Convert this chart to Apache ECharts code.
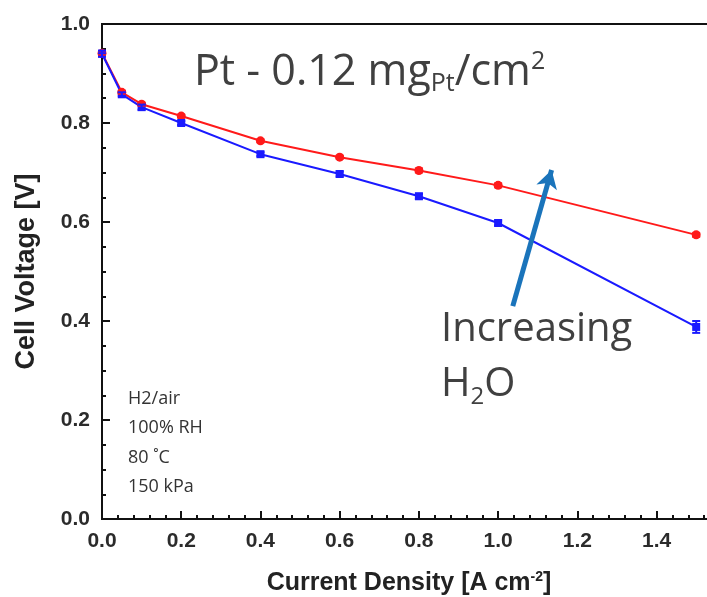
<!DOCTYPE html>
<html>
<head>
<meta charset="utf-8">
<script src="https://cdn.jsdelivr.net/npm/echarts@6/dist/echarts.min.js"></script>
<style>
    html, body {margin: 0; padding: 0; background: #fff;}
    #chart {width: 707px; height: 597px;}
</style>
</head>
<body>
<div id="chart"></div>
<script>
    // current density [A cm-2]
    const currentDensity = [0, 0.05, 0.1, 0.2, 0.4, 0.6, 0.8, 1.0, 1.5];
    // red curve (less water)
    const voltageRed = [0.941, 0.862, 0.838, 0.814, 0.764, 0.731, 0.704, 0.674, 0.574];
    // blue curve (more water)
    const voltageBlue = [0.940, 0.858, 0.832, 0.800, 0.737, 0.697, 0.652, 0.598, 0.388];
    const errBlue = [0.006, 0.004, 0.005, 0.004, 0.004, 0.005, 0.005, 0.005, 0.012];
    const errRed = [0.004, 0.003, 0.003, 0.003, 0.003, 0.003, 0.004, 0.004, 0.004];
    const conditions = ['H2/air', '100% RH', '80 ˚C', '150 kPa'];

    const chartDom = document.getElementById('chart');
    const myChart = echarts.init(chartDom);

    function pairs(ys) {
        return currentDensity.map((x, i) => [x, ys[i]]);
    }

    function errorSeries(ys, errs, color) {
        return {
            type: 'custom',
            z: 3,
            data: currentDensity.map((x, i) => [x, ys[i] - errs[i], ys[i] + errs[i]]),
            renderItem: function (params, api) {
                const lo = api.coord([api.value(0), api.value(1)]);
                const hi = api.coord([api.value(0), api.value(2)]);
                const w = 4;
                const style = {stroke: color, lineWidth: 2};
                return {
                    type: 'group',
                    children: [
                        {type: 'line', shape: {x1: lo[0], y1: lo[1], x2: hi[0], y2: hi[1]}, style: style},
                        {type: 'line', shape: {x1: lo[0] - w, y1: lo[1], x2: lo[0] + w, y2: lo[1]}, style: style},
                        {type: 'line', shape: {x1: hi[0] - w, y1: hi[1], x2: hi[0] + w, y2: hi[1]}, style: style}
                    ]
                };
            }
        };
    }

    const axisFont = {fontFamily: 'Liberation Sans', fontWeight: 'bold', fontSize: 21, color: '#2b2b2b'};
    const noteFont = 'Open Sans';

    const option = {
        animation: false,
        grid: {
            left: 102,
            right: -9,
            top: 24,
            bottom: 78,
            outerBoundsMode: 'none',
            containLabel: false,
            show: true,
            borderColor: '#111',
            borderWidth: 2
        },
        xAxis: {
            type: 'value',
            min: 0,
            max: 1.55,
            interval: 0.2,
            name: 'Current Density [A cm{sup|-2}]',
            nameLocation: 'middle',
            nameGap: 51,
            nameTextStyle: {
                fontFamily: 'Liberation Sans', fontWeight: 'bold', fontSize: 25, color: '#222',
                rich: {sup: {fontFamily: 'Liberation Sans', fontWeight: 'bold', fontSize: 14, verticalAlign: 'top', padding: [0, 0, 12, 0], color: '#222'}}
            },
            axisLine: {show: true, lineStyle: {color: '#111', width: 2}},
            axisTick: {show: true, inside: true, length: 8, lineStyle: {color: '#111', width: 2}},
            minorTick: {show: true, splitNumber: 5, length: 4, lineStyle: {color: '#111', width: 2}},
            axisLabel: Object.assign({margin: 12, showMaxLabel: false, formatter: v => v.toFixed(1)}, axisFont),
            splitLine: {show: false}
        },
        yAxis: {
            type: 'value',
            min: 0,
            max: 1.0,
            interval: 0.2,
            name: 'Cell Voltage [V]',
            nameLocation: 'middle',
            nameGap: 62,
            nameTextStyle: {fontFamily: 'Liberation Sans', fontWeight: 'bold', fontSize: 27, color: '#222'},
            axisLine: {show: true, lineStyle: {color: '#111', width: 2}},
            axisTick: {show: true, inside: true, length: 8, lineStyle: {color: '#111', width: 2}},
            minorTick: {show: true, splitNumber: 4, length: 4, lineStyle: {color: '#111', width: 2}},
            axisLabel: Object.assign({margin: 12, formatter: v => v.toFixed(1)}, axisFont),
            splitLine: {show: false}
        },
        graphic: [
            {
                type: 'text',
                left: 194,
                top: 49,
                style: {
                    text: '{a|Pt - 0.12 mg}{s|Pt}{a|/cm}{p|2}',
                    rich: {
                        a: {fontFamily: noteFont, fontSize: 43, fill: '#404040'},
                        s: {fontFamily: noteFont, fontSize: 25, fill: '#404040', padding: [22, 0, 0, 0]},
                        p: {fontFamily: noteFont, fontSize: 25, fill: '#404040', padding: [0, 0, 22, 0]}
                    }
                }
            },
            {
                type: 'text',
                left: 441,
                top: 310,
                style: {
                    text: '{a|Increasing}\n{a|H}{s|2}{a|O}',
                    rich: {
                        a: {fontFamily: noteFont, fontSize: 40, fill: '#404040', lineHeight: 55},
                        s: {fontFamily: noteFont, fontSize: 24, fill: '#404040', padding: [24, 0, 0, 0], lineHeight: 55}
                    }
                }
            },
            {
                type: 'text',
                left: 128,
                top: 384,
                style: {
                    text: conditions.join('\n'),
                    fontFamily: noteFont,
                    fontSize: 18,
                    lineHeight: 29.5,
                    fill: '#333'
                }
            }
        ],
        series: [
            {
                name: 'red',
                type: 'line',
                data: pairs(voltageRed),
                symbol: 'circle',
                symbolSize: 9,
                z: 2,
                lineStyle: {color: '#ff1a1a', width: 2},
                itemStyle: {color: '#ff1a1a'},
                markLine: {
                    silent: true,
                    symbol: ['none', 'arrow'],
                    symbolSize: [16, 18],
                    label: {show: false},
                    lineStyle: {color: '#1a74bb', width: 5, type: 'solid'},
                    data: [[{coord: [1.037, 0.43]}, {coord: [1.135, 0.705]}]]
                }
            },
            errorSeries(voltageRed, errRed, '#ff1a1a'),
            {
                name: 'blue',
                type: 'line',
                data: pairs(voltageBlue),
                symbol: 'rect',
                symbolSize: 8,
                z: 2,
                lineStyle: {color: '#1a1aff', width: 2},
                itemStyle: {color: '#1a1aff'}
            },
            errorSeries(voltageBlue, errBlue, '#1a1aff')
        ]
    };

    myChart.setOption(option);
</script>
</body>
</html>
